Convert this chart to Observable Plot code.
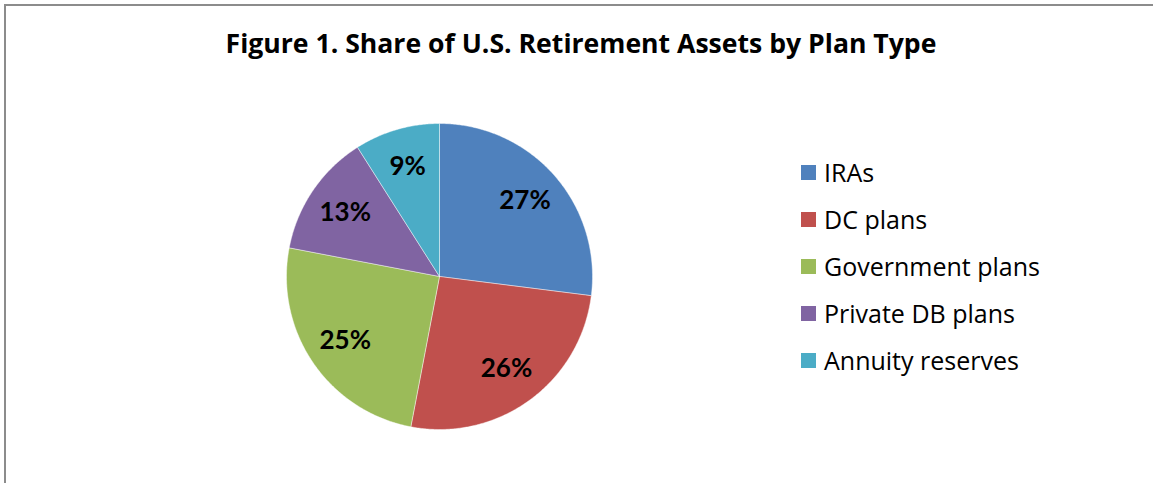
<!DOCTYPE html>
<html>
<head>
<meta charset="utf-8">
<script src="https://cdn.jsdelivr.net/npm/d3@7"></script>
<script src="https://cdn.jsdelivr.net/npm/@observablehq/plot@0.6"></script>
<style>
  html, body { margin: 0; padding: 0; background: #fff; }
  #wrap { position: relative; width: 1153px; height: 483px; overflow: hidden; font-family: "Open Sans", Lato, sans-serif; }
  #frame { position: absolute; left: 4px; top: 4px; width: 1160px; height: 477px; border-top: 2px solid #8c8c8c; border-left: 2px solid #8c8c8c; border-bottom: 1px solid #e6e6e6; }
  #title { position: absolute; left: 0; top: 25px; width: 1162px; text-align: center; font-weight: bold; font-size: 26.6px; line-height: 36px; color: #000; white-space: nowrap; }
  #chart { position: absolute; left: 0; top: 0; }
  #legend { position: absolute; left: 801px; top: 158px; }
  #legend > div { display: flex !important; flex-direction: column !important; align-items: flex-start !important; gap: 18px !important; margin: 0 !important; min-height: 0 !important; }
  #legend span { margin: 0 !important; line-height: 29px; display: inline-flex !important; align-items: center !important; }
  #legend svg { margin-right: 8px !important; }
</style>
</head>
<body>
<div id="wrap">
  <div id="frame"></div>
  <div id="title">Figure 1. Share of U.S. Retirement Assets by Plan Type</div>
  <div id="chart"></div>
  <div id="legend"></div>
</div>
<script>
const categories = ["IRAs", "DC plans", "Government plans", "Private DB plans", "Annuity reserves"];
const shares = [27, 26, 25, 13, 9];
const colors = ["#4F81BD", "#C0504D", "#9BBB59", "#8064A2", "#4BACC6"];

const data = categories.map((c, i) => ({category: c, value: shares[i]}));
const arcs = d3.pie().sort(null).value(d => d.value).startAngle(0).endAngle(2 * Math.PI)(data);

// slice outlines (unit circle coordinates) built from the pie angles
const outline = [];
for (const a of arcs) {
  outline.push({category: a.data.category, x: 0, y: 0});
  const n = Math.max(2, Math.ceil((a.endAngle - a.startAngle) / (Math.PI / 360)));
  for (let k = 0; k <= n; k++) {
    const t = a.startAngle + (a.endAngle - a.startAngle) * k / n;
    outline.push({category: a.data.category, x: Math.sin(t), y: Math.cos(t)});
  }
  outline.push({category: a.data.category, x: 0, y: 0});
}
const labels = arcs.map(a => {
  const m = (a.startAngle + a.endAngle) / 2;
  return {label: a.data.value + "%", x: 0.745 * Math.sin(m), y: 0.745 * Math.cos(m)};
});

const cx = 439, cy = 276, r = 153;
const colorScale = {domain: categories, range: colors};

const plot = Plot.plot({
  width: 1153,
  height: 483,
  margin: 0,
  x: {domain: [-1, 1], range: [cx - r, cx + r], axis: null},
  y: {domain: [-1, 1], range: [cy + r, cy - r], axis: null},
  color: colorScale,
  style: {background: "transparent", fontFamily: "Lato, 'Open Sans', sans-serif"},
  marks: [
    Plot.line(outline, {x: "x", y: "y", z: "category", fill: "category", stroke: "#ffffff", strokeWidth: 0.8, strokeOpacity: 0.55, curve: "linear"}),
    Plot.text(labels, {x: "x", y: "y", text: "label", fontSize: 26, fontWeight: "bold", fill: "#000"})
  ]
});
document.getElementById("chart").appendChild(plot);

const legend = Plot.legend({
  color: colorScale,
  legend: "swatches",
  swatchSize: 15,
  style: {fontFamily: "'Open Sans', Lato, sans-serif", fontSize: "25px", color: "#000"}
});
document.getElementById("legend").appendChild(legend);
</script>
</body>
</html>
